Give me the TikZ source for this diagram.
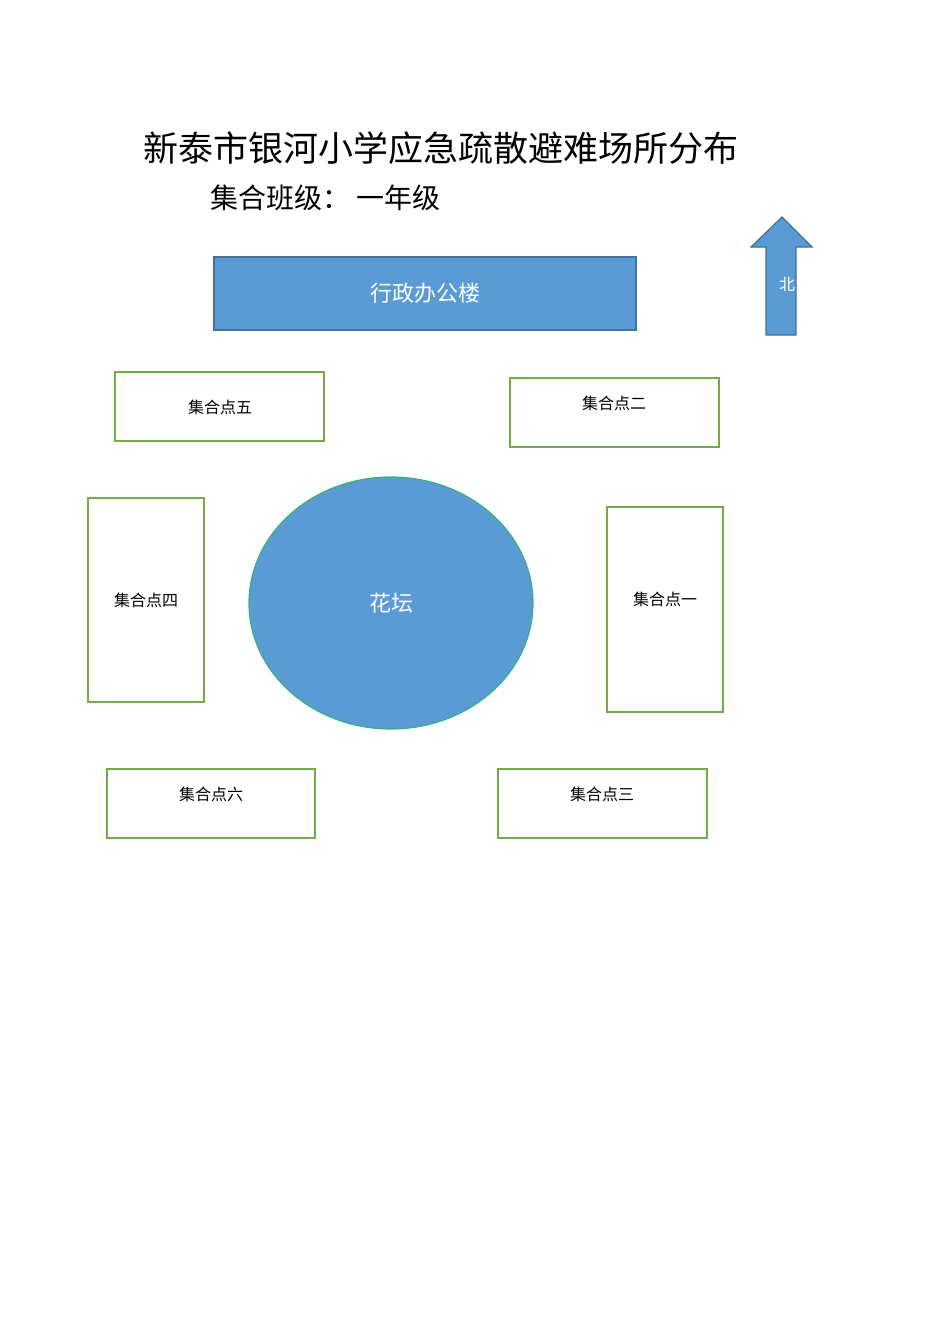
\documentclass[tikz,border=0pt]{standalone}
\usepackage{fontspec}
\setmainfont{Noto Sans CJK SC}
\usepackage{tikz}
\usetikzlibrary{positioning, calc, shapes.geometric}
\definecolor{bblue}{HTML}{5B9BD5}
\definecolor{bdark}{HTML}{41719C}
\definecolor{bgreen}{HTML}{70AD47}
\definecolor{tgreen}{RGB}{50,180,120}

\begin{document}
\begin{tikzpicture}[x=1pt, y=-1pt, >=stealth,
  spot/.style={draw=bgreen, line width=1.2pt, fill=white, inner sep=0pt},
  spottext/.style={font=\fontsize{16}{16}\selectfont, inner sep=0pt}]
  \useasboundingbox (0,0) rectangle (950,1344);

  \node (title) at (441,148) {\fontsize{35}{35}\selectfont 新泰市银河小学应急疏散避难场所分布};
  \node[anchor=west] (class) at (207,198) {\fontsize{28}{28}\selectfont 集合班级： 一年级};

  \node[draw=bdark, line width=1.2pt, fill=bblue, text=white, minimum width=422pt, minimum height=73pt,
    font=\fontsize{22}{22}\selectfont] (office) at (425,293.5) {行政办公楼};

  % north arrow
  \draw[draw=bdark, line width=1.2pt, fill=bblue] (766,335) -- (766,247) -- (751,247) -- (782,217)
    -- (812,247) -- (796,247) -- (796,335) -- cycle;
  \node[text=white, font=\fontsize{16}{16}\selectfont, inner sep=0pt] (north) at (787,284) {北};

  \node[draw=tgreen, line width=1.2pt, fill=bblue, ellipse, minimum width=284pt, minimum height=252pt,
    text=white, font=\fontsize{22}{22}\selectfont, inner sep=0pt] (bed) at (391,603) {花坛};

  \node[spot, minimum width=209pt, minimum height=69pt] (p5) at (219.5,406.5) {};
  \node[spot, minimum width=209pt, minimum height=69pt] (p2) at (614.5,412.5) {};
  \node[spot, minimum width=116pt, minimum height=204pt] (p4) at (146,600) {};
  \node[spot, minimum width=116pt, minimum height=205pt] (p1) at (665,609.5) {};
  \node[spot, minimum width=208pt, minimum height=69pt] (p6) at (211,803.5) {};
  \node[spot, minimum width=209pt, minimum height=69pt] (p3) at (602.5,803.5) {};

  \node[spottext] (t5) at (220,407) {集合点五};
  \node[spottext] (t2) at (614,403) {集合点二};
  \node[spottext] (t4) at (146,600) {集合点四};
  \node[spottext] (t1) at (665,599) {集合点一};
  \node[spottext] (t6) at (211,794) {集合点六};
  \node[spottext] (t3) at (602,794) {集合点三};
\end{tikzpicture}
\end{document}
